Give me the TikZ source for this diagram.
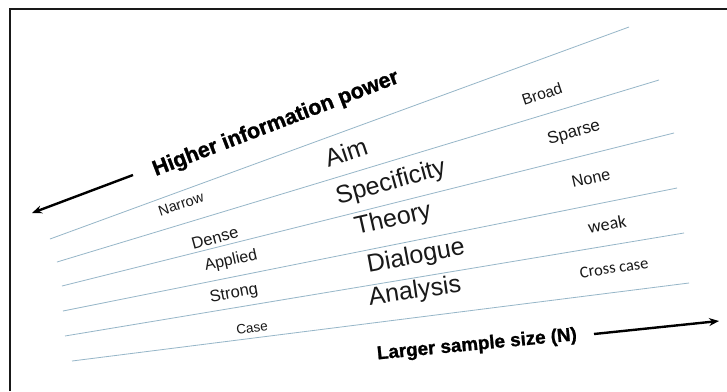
\documentclass[tikz,border=0pt]{standalone}
\usepackage{fontspec}
\setmainfont{Liberation Sans}
\newfontfamily\calibrifont{Carlito}
\newfontfamily\heavyfont[FakeBold=1.2]{Liberation Sans Bold}
\usetikzlibrary{arrows.meta}
\definecolor{fancol}{RGB}{150,182,200}
\definecolor{inkcol}{RGB}{25,25,25}

\begin{document}
\begin{tikzpicture}[x=1pt,y=-1pt,
  fanline/.style={draw=fancol, line width=0.8pt},
  midlabel/.style={font=\fontsize{25}{30}\selectfont, text=inkcol, inner sep=0pt},
  sidelabel/.style={font=\fontsize{#1}{#1}\selectfont, text=inkcol, inner sep=0pt},
  calilabel/.style={font=\calibrifont\fontsize{#1}{#1}\selectfont, text=inkcol, inner sep=0pt},
  boldlabel/.style={font=\heavyfont\fontsize{#1}{#1}\selectfont, text=black, inner sep=0pt},
  bigarrow/.style={line width=2.4pt, -{Stealth[length=10pt,width=8pt]}},
]
\useasboundingbox (0,0) rectangle (727,391);
\fill[white] (0,0) rectangle (727,391);

% frame (open to the right and bottom)
\draw[line width=2.6pt, draw=black!90, line join=miter] (10,391) -- (10,9) -- (727,9);

% fan of guide lines
\coordinate (a1) at (50,239);  \coordinate (a2) at (629,27);
\coordinate (b1) at (57,262);  \coordinate (b2) at (659,80);
\coordinate (c1) at (62,286);  \coordinate (c2) at (674,133);
\coordinate (d1) at (63,311);  \coordinate (d2) at (677,188);
\coordinate (e1) at (65,336);  \coordinate (e2) at (684,233);
\coordinate (f1) at (72,361);  \coordinate (f2) at (689,283);
\draw[fanline] (a1) -- (a2);
\draw[fanline] (b1) -- (b2);
\draw[fanline] (c1) -- (c2);
\draw[fanline] (d1) -- (d2);
\draw[fanline] (e1) -- (e2);
\draw[fanline] (f1) -- (f2);

% dimension names
\node[midlabel, rotate=18.5] (aim)  at (346,152) {Aim};
\node[midlabel, rotate=15.4] (spec) at (391,183) {Specificity};
\node[midlabel, rotate=12.8] (theo) at (393,220) {Theory};
\node[midlabel, rotate=10.5] (dial) at (416,257) {Dialogue};
\node[midlabel, rotate=8.3]  (anal) at (415,292) {Analysis};

% left-hand values
\node[sidelabel=14.5, rotate=18.5] (narrow)  at (181,204) {Narrow};
\node[sidelabel=16.5, rotate=15.4] (dense)   at (215,238) {Dense};
\node[sidelabel=16,   rotate=12.8] (applied) at (231,261) {Applied};
\node[sidelabel=16.5, rotate=10.5] (strong)  at (234,294) {Strong};
\node[sidelabel=13.5, rotate=8.3]  (case)    at (252,328) {Case};

% right-hand values
\node[sidelabel=15.5, rotate=18.5] (broad)  at (542,94)  {Broad};
\node[sidelabel=17,   rotate=15.4] (sparse) at (574,133) {Sparse};
\node[sidelabel=16.3, rotate=12.8] (none)   at (591,178) {None};
\node[calilabel=18,   rotate=10.5] (weak)   at (607,224) {weak};
\node[calilabel=16.5, rotate=8.3]  (cross)  at (614,268) {Cross case};

% axis titles and arrows
\node[boldlabel=21.5, rotate=21] (power) at (276,124) {Higher information power};
\node[boldlabel=18.8, rotate=5.5] (size) at (477,345) {Larger sample size (N)};

\coordinate (la0) at (133,175); \coordinate (la1) at (32,213);
\coordinate (ra0) at (594,334); \coordinate (ra1) at (719,321);
\draw[bigarrow] (la0) -- (la1);
\draw[bigarrow] (ra0) -- (ra1);
\end{tikzpicture}
\end{document}
